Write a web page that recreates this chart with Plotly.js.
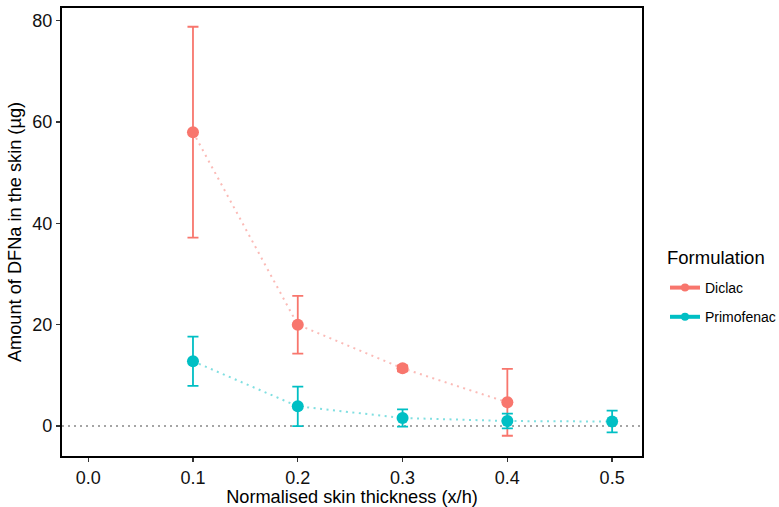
<!DOCTYPE html>
<html>
<head>
<meta charset="utf-8">
<script src="https://cdn.plot.ly/plotly-3.0.1.min.js"></script>
<style>html,body{margin:0;padding:0;background:#fff;}#chart{width:779px;height:507px;}</style>
</head>
<body>
<div id="chart"></div>
<script>
// Data
const formulations = ["Diclac", "Primofenac"];
const legendTitle = "Formulation";
const diclacX = [0.1, 0.2, 0.3, 0.4];
const diclacMean = [58.0, 20.0, 11.4, 4.7];
const diclacErr = [20.8, 5.7, 0.6, 6.6];
const primofenacX = [0.1, 0.2, 0.3, 0.4, 0.5];
const primofenacMean = [12.8, 3.9, 1.6, 1.0, 0.9];
const primofenacErr = [4.85, 3.9, 1.7, 1.45, 2.15];
const xTickVals = [0.0, 0.1, 0.2, 0.3, 0.4, 0.5];
const xTickText = ["0.0", "0.1", "0.2", "0.3", "0.4", "0.5"];
const yTickVals = [0, 20, 40, 60, 80];

const colors = ["#F8766D", "#00BFC4"];
const lineColors = ["rgba(248,118,109,0.5)", "rgba(0,191,196,0.5)"];
const FONT = "Liberation Sans, Arial, sans-serif";

const series = [
  {x: diclacX, y: diclacMean, e: diclacErr},
  {x: primofenacX, y: primofenacMean, e: primofenacErr}
];

const traces = [];
series.forEach((s, i) => {
  traces.push({
    x: s.x, y: s.y, type: "scatter", mode: "lines",
    line: {color: lineColors[i], width: 2, dash: "2px,4.5px"},
    showlegend: false, hoverinfo: "skip"
  });
});
series.forEach((s, i) => {
  traces.push({
    x: s.x, y: s.y, type: "scatter", mode: "markers",
    marker: {color: colors[i], size: 12},
    error_y: {type: "data", array: s.e, visible: true, color: colors[i], thickness: 1.8, width: 5.5},
    name: formulations[i], showlegend: false
  });
});
// legend keys
series.forEach((s, i) => {
  traces.push({
    x: [null], y: [null], type: "scatter", mode: "lines+markers",
    line: {color: colors[i], width: 4},
    marker: {color: colors[i], size: 8},
    name: formulations[i], legendgroup: formulations[i], showlegend: true
  });
});

const layout = {
  width: 779, height: 507,
  margin: {l: 62, r: 137, t: 8, b: 51},
  paper_bgcolor: "#fff", plot_bgcolor: "#fff",
  font: {family: FONT, color: "#000", size: 18},
  xaxis: {
    range: [-0.025, 0.5285],
    tickvals: xTickVals, ticktext: xTickText,
    showgrid: false, zeroline: false,
    showline: true, linecolor: "#000", linewidth: 2.2, mirror: true,
    ticks: "outside", ticklen: 4, tickwidth: 1.3, tickcolor: "#333",
    tickfont: {family: FONT, size: 18, color: "#111"},
    title: {text: "Normalised skin thickness (x/h)", font: {family: FONT, size: 18.2, color: "#000"}, standoff: 5}
  },
  yaxis: {
    range: [-5.9, 82.5],
    tickvals: yTickVals,
    showgrid: false, zeroline: false,
    showline: true, linecolor: "#000", linewidth: 2.2, mirror: true,
    ticks: "outside", ticklen: 4, tickwidth: 1.3, tickcolor: "#333",
    tickfont: {family: FONT, size: 18, color: "#111"},
    title: {text: "Amount of DFNa in the skin (µg)", font: {family: FONT, size: 18.2, color: "#000"}, standoff: 6}
  },
  shapes: [{
    type: "line", xref: "paper", yref: "y", x0: 0, x1: 1, y0: 0, y1: 0,
    line: {color: "#888", width: 1.5, dash: "2px,4px"}, layer: "below"
  }],
  annotations: [{
    text: legendTitle, xref: "paper", yref: "paper",
    x: (665 - 62) / 580, y: (456 - 257) / 448, xanchor: "left", yanchor: "middle",
    showarrow: false, font: {family: FONT, size: 18.5, color: "#000"}
  }],
  legend: {
    xref: "container", yref: "container",
    x: 665 / 779, xanchor: "left", y: 1 - 272 / 507, yanchor: "top",
    font: {family: FONT, size: 14, color: "#000"},
    traceorder: "grouped", tracegroupgap: 8,
    bgcolor: "rgba(0,0,0,0)"
  },
  showlegend: true
};

Plotly.newPlot("chart", traces, layout, {displayModeBar: false, staticPlot: true});
</script>
</body>
</html>
